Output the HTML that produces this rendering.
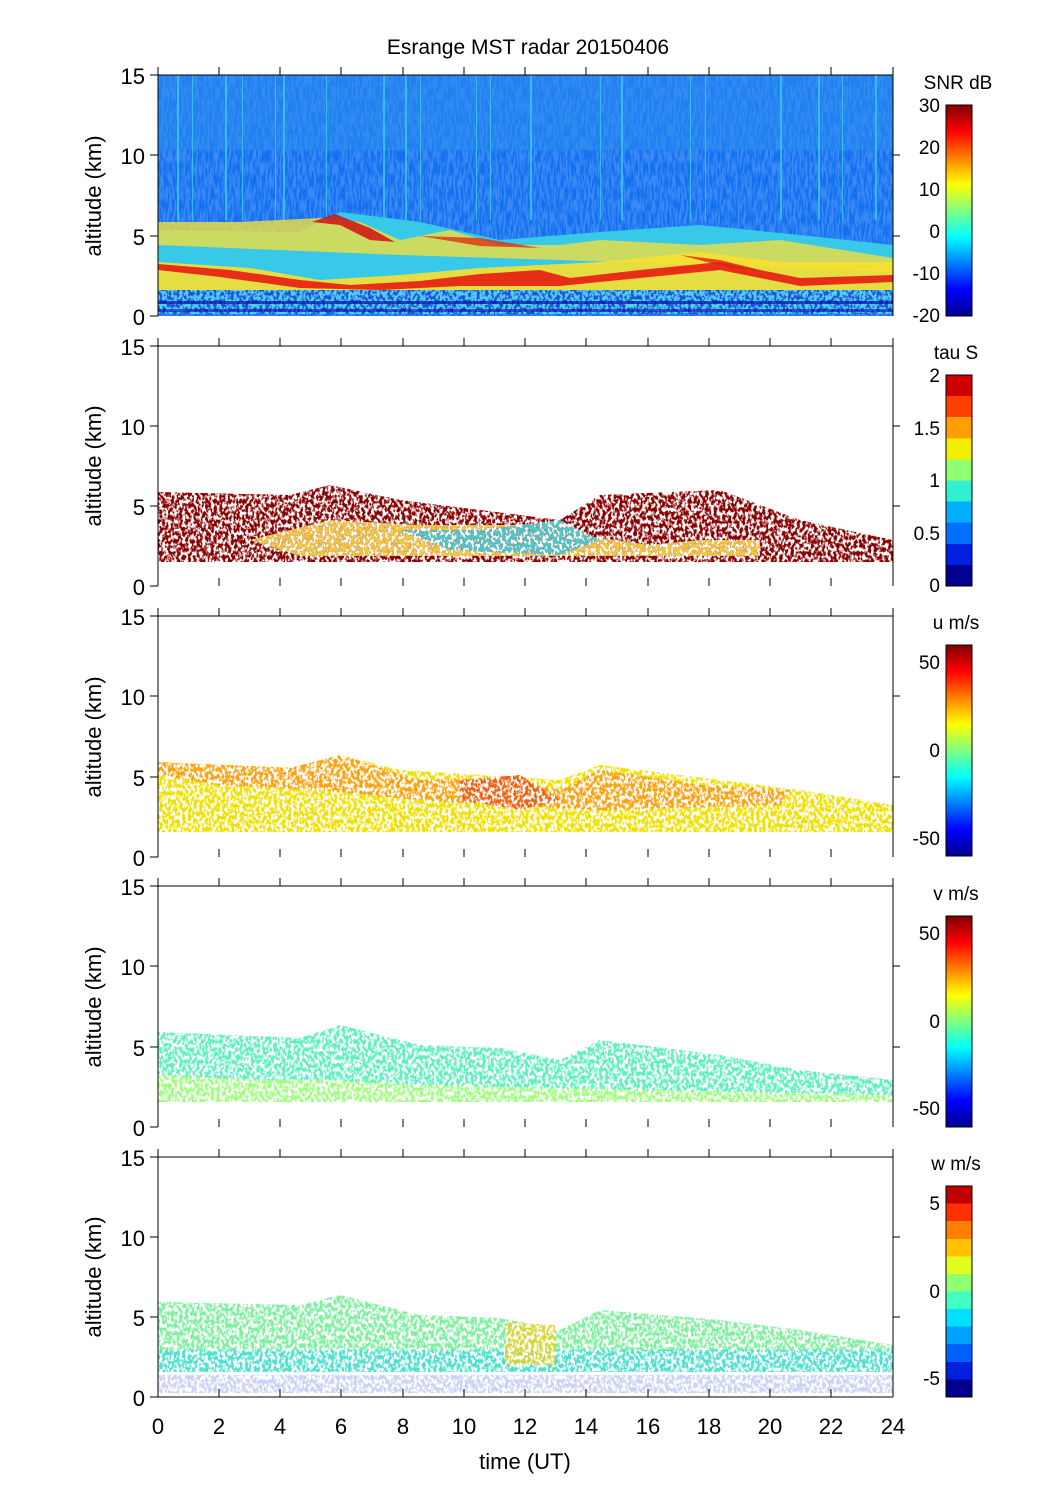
<!DOCTYPE html>
<html><head><meta charset="utf-8"><style>
body{margin:0;background:#fff}
svg text{font-family:"Liberation Sans",sans-serif;fill:#000}
</style></head><body>
<svg width="1051" height="1501" viewBox="0 0 1051 1501" xmlns="http://www.w3.org/2000/svg">
<defs>
<linearGradient id="jet" x1="0" y1="1" x2="0" y2="0">
<stop offset="0" stop-color="#00008f"/><stop offset="0.125" stop-color="#0000ff"/><stop offset="0.375" stop-color="#00ffff"/><stop offset="0.5" stop-color="#80ff80"/><stop offset="0.625" stop-color="#ffff00"/><stop offset="0.875" stop-color="#ff0000"/><stop offset="1" stop-color="#800000"/>
</linearGradient>
<linearGradient id="jetd" x1="0" y1="1" x2="0" y2="0">
<stop offset="0" stop-color="#00008f"/><stop offset="0.083" stop-color="#00008f"/><stop offset="0.083" stop-color="#0020e0"/><stop offset="0.167" stop-color="#0020e0"/><stop offset="0.167" stop-color="#0060ff"/><stop offset="0.25" stop-color="#0060ff"/><stop offset="0.25" stop-color="#00a0ff"/><stop offset="0.333" stop-color="#00a0ff"/><stop offset="0.333" stop-color="#00e0ff"/><stop offset="0.417" stop-color="#00e0ff"/><stop offset="0.417" stop-color="#40ffc0"/><stop offset="0.5" stop-color="#40ffc0"/><stop offset="0.5" stop-color="#90ff70"/><stop offset="0.583" stop-color="#90ff70"/><stop offset="0.583" stop-color="#e0ff20"/><stop offset="0.667" stop-color="#e0ff20"/><stop offset="0.667" stop-color="#ffc000"/><stop offset="0.75" stop-color="#ffc000"/><stop offset="0.75" stop-color="#ff8000"/><stop offset="0.833" stop-color="#ff8000"/><stop offset="0.833" stop-color="#ff3000"/><stop offset="0.917" stop-color="#ff3000"/><stop offset="0.917" stop-color="#c00000"/><stop offset="1" stop-color="#c00000"/>
</linearGradient>
<linearGradient id="tau" x1="0" y1="1" x2="0" y2="0">
<stop offset="0" stop-color="#000090"/><stop offset="0.1" stop-color="#000090"/><stop offset="0.1" stop-color="#0020e0"/><stop offset="0.2" stop-color="#0020e0"/><stop offset="0.2" stop-color="#0070ff"/><stop offset="0.3" stop-color="#0070ff"/><stop offset="0.3" stop-color="#00b0ff"/><stop offset="0.4" stop-color="#00b0ff"/><stop offset="0.4" stop-color="#30f0d0"/><stop offset="0.5" stop-color="#30f0d0"/><stop offset="0.5" stop-color="#90ff70"/><stop offset="0.6" stop-color="#90ff70"/><stop offset="0.6" stop-color="#f0f000"/><stop offset="0.7" stop-color="#f0f000"/><stop offset="0.7" stop-color="#ffa000"/><stop offset="0.8" stop-color="#ffa000"/><stop offset="0.8" stop-color="#ff4000"/><stop offset="0.9" stop-color="#ff4000"/><stop offset="0.9" stop-color="#d00000"/><stop offset="1" stop-color="#d00000"/>
</linearGradient>
<filter id="speck" x="0" y="0" width="1" height="1">
<feTurbulence type="fractalNoise" baseFrequency="0.35 0.25" numOctaves="2" seed="3" result="n"/>
<feColorMatrix in="n" type="matrix" values="0 0 0 0 0 0 0 0 0 0 0 0 0 0 0 0 0 0 -6 3.6" result="a"/>
<feComposite in="SourceGraphic" in2="a" operator="in"/>
</filter>
<filter id="tex" x="0" y="0" width="1" height="1">
<feTurbulence type="fractalNoise" baseFrequency="0.5 0.08" numOctaves="2" seed="7" result="n"/>
<feColorMatrix in="n" type="matrix" values="0 0 0 0 0.3 0 0 0 0 0.55 0 0 0 0 1 0 0 0 -5 3" result="c"/>
<feComposite in="c" in2="SourceGraphic" operator="in"/>
</filter>
</defs>

<text x="528" y="54" font-size="21" text-anchor="middle">Esrange MST radar 20150406</text>

<!-- Panel 1 SNR -->
<rect x="158" y="75" width="735" height="241" fill="#1470f0"/>
<rect x="158" y="75" width="735" height="241" fill="#fff" filter="url(#tex)" opacity="0.3"/>
<rect x="158" y="75" width="735" height="75" fill="#2a90f0" opacity="0.5"/>
<g fill="#3cc8f0" opacity="0.8">
<rect x="177" y="75" width="2" height="145"/><rect x="192" y="75" width="1" height="145"/><rect x="225" y="75" width="2" height="145"/><rect x="242" y="75" width="1" height="145"/><rect x="275" y="75" width="1" height="145"/><rect x="283" y="75" width="2" height="145"/><rect x="326" y="75" width="1" height="145"/><rect x="383" y="75" width="2" height="145"/><rect x="405" y="75" width="2" height="145"/><rect x="420" y="75" width="1" height="145"/><rect x="476" y="75" width="1" height="145"/><rect x="490" y="75" width="1" height="145"/><rect x="530" y="75" width="2" height="145"/><rect x="600" y="75" width="1" height="145"/><rect x="621" y="75" width="2" height="145"/><rect x="690" y="75" width="1" height="145"/><rect x="705" y="75" width="1" height="145"/><rect x="780" y="75" width="2" height="145"/><rect x="818" y="75" width="2" height="145"/><rect x="842" y="75" width="1" height="145"/><rect x="875" y="75" width="2" height="145"/>
</g>
<path d="M158 230 L300 232 L340 212 L420 222 L500 240 L600 232 L700 225 L800 235 L893 245 L893 292 L158 292 Z" fill="#38c8e8"/>
<path d="M158 222 L240 222 L320 218 L360 222 L400 240 L450 230 L500 245 L560 245 L600 240 L700 245 L780 240 L893 258 L893 272 L560 260 L400 255 L158 245 Z" fill="#f0e040" opacity="0.8"/>
<path d="M158 262 L250 268 L320 280 L400 275 L480 268 L540 265 L600 262 L700 252 L780 262 L893 262 L893 292 L158 292 Z" fill="#f8e030" opacity="0.9"/>
<path d="M158 264 L230 270 L300 280 L350 285 L420 281 L480 274 L540 270 L570 278 L640 270 L720 262 L800 278 L893 275 L893 282 L800 286 L720 270 L640 278 L560 286 L460 286 L380 290 L300 288 L220 277 L158 270 Z" fill="#e81010" opacity="0.85"/>
<path d="M312 222 L335 214 L370 228 L395 242 L370 240 L340 225 Z" fill="#d01010" opacity="0.85"/>
<path d="M420 236 L480 238 L540 248 L480 246 Z" fill="#e03010" opacity="0.8"/>
<path d="M680 255 L720 260 L760 270 L730 268 Z" fill="#e02010" opacity="0.8"/>
<rect x="158" y="290" width="735" height="24" fill="#2050e0"/>
<rect x="158" y="290" width="735" height="24" fill="#50d0f0" filter="url(#speck)"/>
<rect x="158" y="301" width="735" height="3" fill="#0010a0" opacity="0.7"/>
<rect x="158" y="309" width="735" height="3" fill="#0010a0" opacity="0.6"/>

<!-- Panel 2 tau -->
<g filter="url(#speck)">
<path d="M158 492 L290 495 L330 485 L400 500 L480 510 L560 520 L600 495 L720 490 L800 520 L893 540 L893 562 L158 562 Z" fill="#8b0000"/>
</g>
<g filter="url(#speck)" opacity="0.9">
<path d="M250 540 L330 520 L420 525 L520 525 L580 535 L650 545 L700 540 L760 540 L760 556 L600 556 L520 556 L420 556 L300 556 Z" fill="#ffe040"/>
<path d="M400 530 L480 530 L560 520 L600 540 L560 555 L450 550 Z" fill="#40e0e0"/>
</g>

<!-- Panel 3 u -->
<g filter="url(#speck)">
<path d="M158 762 L300 768 L340 755 L400 770 L480 775 L560 780 L600 765 L720 780 L800 790 L893 805 L893 832 L158 832 Z" fill="#f0e000"/>
<path d="M158 762 L290 768 L340 755 L420 780 L500 778 L560 790 L600 770 L700 785 L790 790 L780 805 L600 810 L500 805 L420 800 L320 790 L220 785 L158 775 Z" fill="#ffa010"/>
<path d="M460 780 L520 775 L560 800 L520 810 L460 800 Z" fill="#f06010"/>
</g>

<!-- Panel 4 v -->
<g filter="url(#speck)">
<path d="M158 1032 L300 1038 L340 1025 L420 1045 L500 1048 L560 1060 L600 1040 L720 1055 L800 1070 L893 1080 L893 1102 L158 1102 Z" fill="#60f0c0"/>
<path d="M158 1075 L260 1080 L330 1080 L420 1085 L893 1095 L893 1102 L158 1102 Z" fill="#a0ff80"/>
</g>

<!-- Panel 5 w -->
<g filter="url(#speck)">
<path d="M158 1302 L300 1305 L340 1295 L420 1315 L500 1318 L560 1330 L600 1310 L720 1320 L800 1330 L893 1345 L893 1372 L158 1372 Z" fill="#80f0a0"/>
<path d="M158 1350 L893 1350 L893 1372 L158 1372 Z" fill="#50e0d0"/>
<path d="M505 1322 L555 1325 L555 1365 L505 1365 Z" fill="#e8d020" opacity="0.8"/>
</g>
<rect x="158" y="1375" width="735" height="18" fill="#3050e0" filter="url(#speck)" opacity="0.25"/>

<!-- axes & ticks -->
<g stroke="#000" stroke-width="1" fill="none">
<path d="M158 75 V316 M158 346 V586 M158 616 V857 M158 886 V1127 M158 1157 V1397 M158 1397 H893"/>
<path d="M893 75 V316 M893 346 V586 M893 616 V857 M893 886 V1127 M893 1157 V1397"/>
<path d="M158 75 H893 M158 346 H893 M158 616 H893 M158 886 H893 M158 1157 H893"/>
</g>
<g stroke="#000" stroke-width="1">
<path d="M150 75H158M150 155H158M150 236H158M150 316H158 M150 346H158M150 426H158M150 506H158M150 586H158 M150 616H158M150 696H158M150 777H158M150 857H158 M150 886H158M150 966H158M150 1047H158M150 1127H158 M150 1157H158M150 1237H158M150 1317H158M150 1397H158"/>
<path d="M893 155H900M893 236H900 M893 426H900M893 506H900 M893 696H900M893 777H900 M893 966H900M893 1047H900 M893 1237H900M893 1317H900"/>
</g>
<g stroke="#000" stroke-width="1">
<path d="M158 67V75M219 67V75M280 67V75M341 67V75M403 67V75M464 67V75M525 67V75M586 67V75M648 67V75M709 67V75M770 67V75M831 67V75M893 67V75"/>
<path d="M158 316V324M219 316V324M280 316V324M341 316V324M403 316V324M464 316V324M525 316V324M586 316V324M648 316V324M709 316V324M770 316V324M831 316V324M893 316V324" transform="translate(0,22)"/>
<path d="M158 586V594M219 586V594M280 586V594M341 586V594M403 586V594M464 586V594M525 586V594M586 586V594M648 586V594M709 586V594M770 586V594M831 586V594M893 586V594" transform="translate(0,22)"/>
<path d="M158 857V865M219 857V865M280 857V865M341 857V865M403 857V865M464 857V865M525 857V865M586 857V865M648 857V865M709 857V865M770 857V865M831 857V865M893 857V865" transform="translate(0,21)"/>
<path d="M158 1127V1135M219 1127V1135M280 1127V1135M341 1127V1135M403 1127V1135M464 1127V1135M525 1127V1135M586 1127V1135M648 1127V1135M709 1127V1135M770 1127V1135M831 1127V1135M893 1127V1135" transform="translate(0,22)"/>
<path d="M158 1389V1397M219 1389V1397M280 1389V1397M341 1389V1397M403 1389V1397M464 1389V1397M525 1389V1397M586 1389V1397M648 1389V1397M709 1389V1397M770 1389V1397M831 1389V1397M893 1389V1397"/>
<path d="M158 316V308M219 316V308M280 316V308M341 316V308M403 316V308M464 316V308M525 316V308M586 316V308M648 316V308M709 316V308M770 316V308M831 316V308M893 316V308" transform="translate(0,270)"/>
<path d="M158 316V308M219 316V308M280 316V308M341 316V308M403 316V308M464 316V308M525 316V308M586 316V308M648 316V308M709 316V308M770 316V308M831 316V308M893 316V308" transform="translate(0,541)"/>
<path d="M158 316V308M219 316V308M280 316V308M341 316V308M403 316V308M464 316V308M525 316V308M586 316V308M648 316V308M709 316V308M770 316V308M831 316V308M893 316V308" transform="translate(0,811)"/>
</g>

<g font-size="22" text-anchor="end">
<text x="145" y="84">15</text><text x="145" y="164">10</text><text x="145" y="245">5</text><text x="145" y="325">0</text>
<text x="145" y="355">15</text><text x="145" y="435">10</text><text x="145" y="515">5</text><text x="145" y="595">0</text>
<text x="145" y="625">15</text><text x="145" y="705">10</text><text x="145" y="786">5</text><text x="145" y="866">0</text>
<text x="145" y="895">15</text><text x="145" y="975">10</text><text x="145" y="1056">5</text><text x="145" y="1136">0</text>
<text x="145" y="1166">15</text><text x="145" y="1246">10</text><text x="145" y="1326">5</text><text x="145" y="1406">0</text>
</g>
<g font-size="22" text-anchor="middle">
<text transform="translate(101,196) rotate(-90)">altitude (km)</text>
<text transform="translate(101,466) rotate(-90)">altitude (km)</text>
<text transform="translate(101,737) rotate(-90)">altitude (km)</text>
<text transform="translate(101,1007) rotate(-90)">altitude (km)</text>
<text transform="translate(101,1277) rotate(-90)">altitude (km)</text>
<text x="158" y="1434">0</text><text x="219" y="1434">2</text><text x="280" y="1434">4</text><text x="341" y="1434">6</text><text x="403" y="1434">8</text><text x="464" y="1434">10</text><text x="525" y="1434">12</text><text x="586" y="1434">14</text><text x="648" y="1434">16</text><text x="709" y="1434">18</text><text x="770" y="1434">20</text><text x="831" y="1434">22</text><text x="893" y="1434">24</text>
<text x="525" y="1469">time (UT)</text>
</g>

<rect x="946" y="105" width="26" height="211" fill="url(#jet)" stroke="#000"/>
<rect x="946" y="375" width="26" height="211" fill="url(#tau)" stroke="#000"/>
<rect x="946" y="645" width="26" height="211" fill="url(#jet)" stroke="#000"/>
<rect x="946" y="916" width="26" height="211" fill="url(#jet)" stroke="#000"/>
<rect x="946" y="1186" width="26" height="211" fill="url(#jetd)" stroke="#000"/>
<g font-size="19" text-anchor="middle">
<text x="958" y="89">SNR dB</text><text x="956" y="359">tau S</text><text x="956" y="629">u m/s</text><text x="956" y="900">v m/s</text><text x="956" y="1170">w m/s</text>
</g>
<g font-size="19" text-anchor="end">
<text x="940" y="112">30</text><text x="940" y="154">20</text><text x="940" y="196">10</text><text x="940" y="238">0</text><text x="940" y="280">-10</text><text x="940" y="322">-20</text>
<text x="940" y="382">2</text><text x="940" y="435">1.5</text><text x="940" y="487">1</text><text x="940" y="540">0.5</text><text x="940" y="592">0</text>
<text x="940" y="669">50</text><text x="940" y="757">0</text><text x="940" y="845">-50</text>
<text x="940" y="940">50</text><text x="940" y="1028">0</text><text x="940" y="1115">-50</text>
<text x="940" y="1210">5</text><text x="940" y="1298">0</text><text x="940" y="1385">-5</text>
</g>
</svg>
</body></html>
